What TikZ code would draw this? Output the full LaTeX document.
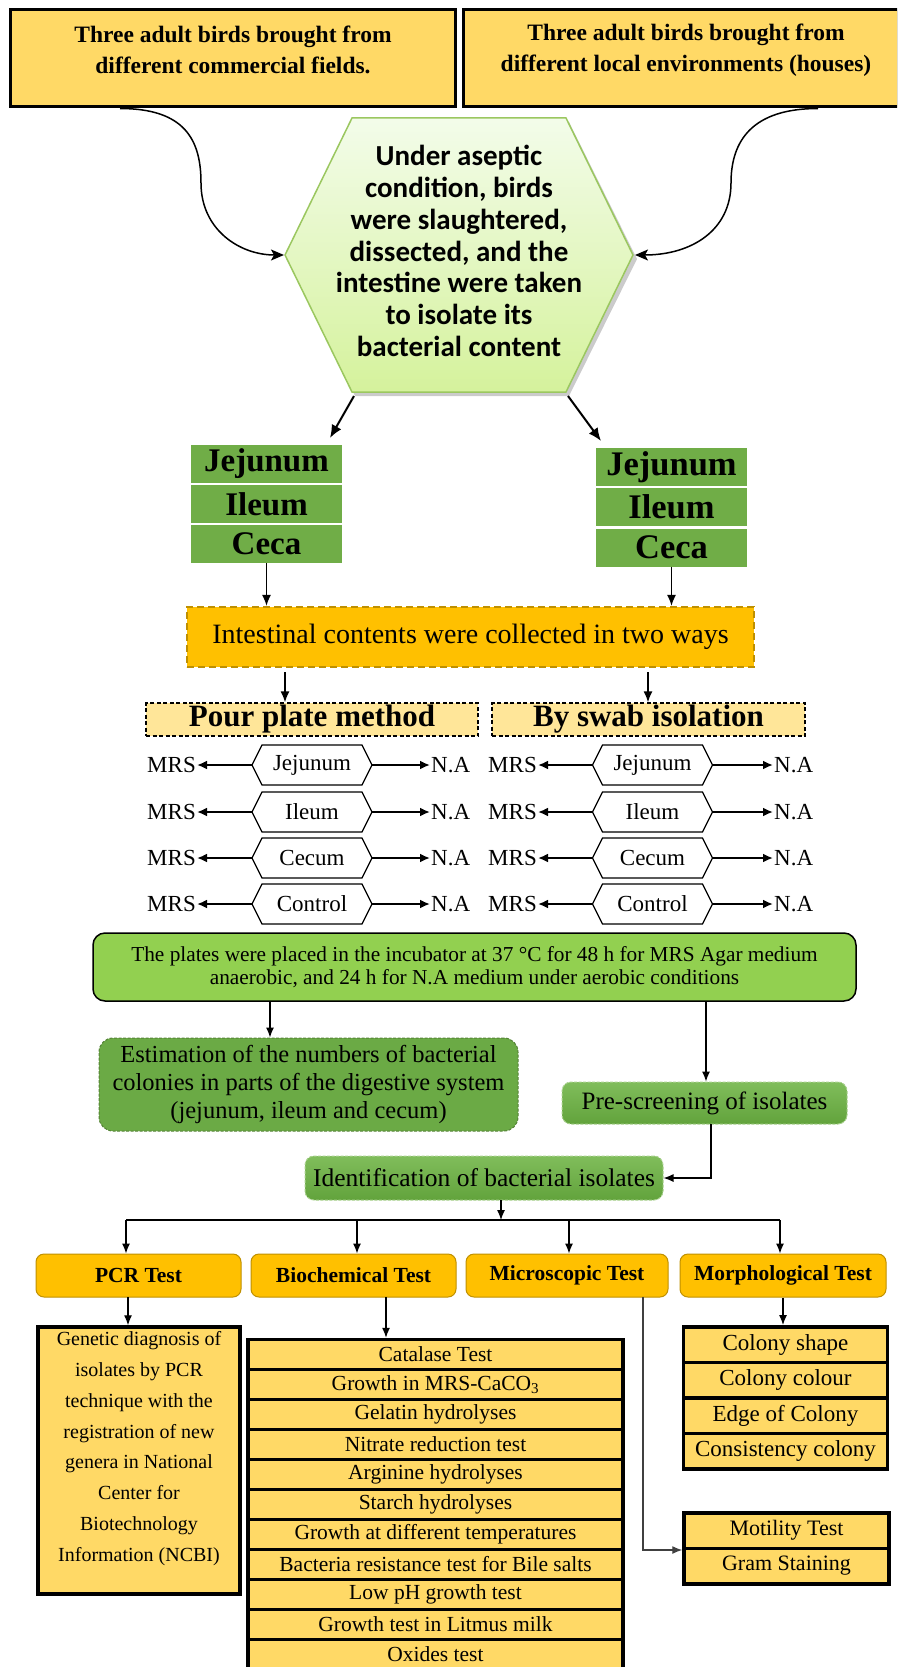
\documentclass[tikz,border=0pt]{standalone}
\usepackage{fontspec}
\setmainfont{Liberation Serif}
\newfontfamily\calibfont{Carlito}
\usetikzlibrary{arrows.meta,calc}
\definecolor{gold}{HTML}{FFD966}
\definecolor{orng}{HTML}{FFC000}
\definecolor{dgold}{HTML}{BF9000}
\definecolor{lyel}{HTML}{FFE699}
\definecolor{grn}{HTML}{70AD47}
\definecolor{estg}{HTML}{6BAA45}
\definecolor{lime}{HTML}{92D050}
\definecolor{dgrn}{HTML}{548235}
\definecolor{lgrn}{HTML}{A9D18E}
\definecolor{gtop}{HTML}{80BD5B}
\definecolor{gbot}{HTML}{62A33C}
\definecolor{hexbord}{HTML}{9BC760}
\definecolor{hextop}{HTML}{F3FCEA}
\definecolor{hexbot}{HTML}{D5F29C}
\newcommand\myfs[2]{\fontsize{#1}{#2}\selectfont}
\newcommand\smallhex[4]{%
  \draw[line width=1.2pt,fill=white] ({#2-60},#3) -- ({#2-50},{#3-20}) -- ({#2+50},{#3-20}) -- ({#2+60},#3) -- ({#2+50},{#3+20}) -- ({#2-50},{#3+20}) -- cycle;
  \node[medium] (#1) at (#2,#3) {#4};
  \coordinate (#1-w) at ({#2-60},#3);
  \coordinate (#1-e) at ({#2+60},#3);
}
\begin{document}
\begin{tikzpicture}[x=1pt,y=-1pt,
  topbox/.style={draw=black,line width=3pt,fill=gold,inner sep=0pt,minimum height=97pt},
  toptext/.style={font=\bfseries\myfs{23.5}{31.5},align=center,inner sep=0pt},
  organ/.style={fill=grn,inner sep=0pt,minimum width=151pt,minimum height=38pt,font=\bfseries\myfs{33}{33}},
  organR/.style={organ,font=\bfseries\myfs{34.5}{34.5}},
  arr/.style={line width=1.5pt,-{Latex[length=11pt,width=9pt]}},
  thinarr/.style={line width=1.2pt,-{Latex[length=10pt,width=8pt]}},
  hexarr/.style={line width=2pt,-{Latex[length=13pt,width=11pt]}},
  curv/.style={line width=1.5pt,-{Stealth[length=13pt,width=11pt,inset=3pt]}},
  medarr/.style={line width=2.2pt,-{Latex[length=10pt,width=9pt]}},
  collectbox/.style={fill=orng,draw=dgold,line width=2.2pt,dash pattern=on 7pt off 4pt,inner sep=0pt,font=\myfs{28}{28}},
  methodbox/.style={fill=lyel,draw=black,line width=1.3pt,dash pattern=on 4pt off 2.5pt,inner sep=0pt,minimum height=33pt,font=\bfseries\myfs{31}{31}},
  medium/.style={font=\myfs{23}{23},inner sep=1pt},
  incub/.style={rounded corners=12pt,fill=lime,draw=black,line width=1.5pt,align=center,font=\myfs{21.3}{23.5},inner sep=0pt},
  estim/.style={rounded corners=14pt,fill=estg,draw=dgrn,line width=1pt,dash pattern=on 3pt off 1.5pt,align=center,font=\myfs{24.5}{28},inner sep=0pt},
  gbox/.style={rounded corners=9pt,top color=gtop,bottom color=gbot,draw=lgrn,line width=1pt,dash pattern=on 3pt off 1.5pt,font=\myfs{25}{25},inner sep=0pt},
  gboxw/.style={gbox,font=\myfs{25.5}{25.5}},
  testhead/.style={rounded corners=8pt,fill=orng,draw=dgold,line width=1pt,minimum height=43pt,font=\bfseries\myfs{21.5}{21.5},inner sep=0pt},
  cell/.style={fill=gold,draw=black,line width=3.5pt,inner sep=0pt,font=\myfs{21.5}{21.5}},
  mcell/.style={cell,font=\myfs{23}{23}},
  micell/.style={cell,font=\myfs{22}{22}}
]
\useasboundingbox (0,0) rectangle (897,1667);
\clip (0,0) rectangle (897,1667);

% ---- top boxes
\node[topbox,minimum width=445pt] (b1) at (232.5,58.5) {};
\node[topbox,minimum width=435pt] (b2) at (680.5,58.5) {};
\node[toptext] (b1t) at (233,50) {Three adult birds brought from\\different commercial fields.};
\node[toptext] (b2t) at (686,50) {Three adult birds brought from\\different local environments (houses)};

% ---- central hexagon
\fill[black!45,opacity=0.45] (288,259) -- (355,122) -- (569,122) -- (637,259) -- (569,396) -- (355,396) -- cycle;
\shadedraw[top color=hextop,bottom color=hexbot,draw=hexbord,line width=1.5pt]
  (285,255) -- (352,118) -- (566,118) -- (633,255) -- (566,392) -- (352,392) -- cycle;
\node[font=\calibfont\bfseries\myfs{29}{31.7},align=center,inner sep=0pt] (hex) at (459,251)
  {Under aseptic\\condition, birds\\were slaughtered,\\dissected, and the\\intestine were taken\\to isolate its\\bacterial content};
\coordinate (hexL) at (284,255);
\coordinate (hexR) at (635,255);
\coordinate (b1out) at (120,108.5);
\coordinate (b2out) at (818,108.5);
\draw[curv] (b1out) .. controls (185,108.5) and (201,140) .. (201,183) .. controls (201,230) and (240,255) .. (hexL);
\draw[curv] (b2out) .. controls (753,108.5) and (731,140) .. (731,183) .. controls (731,230) and (692,255) .. (hexR);

% ---- organ stacks
\node[organ] (lj) at (266.5,464) {Jejunum};
\node[organ] (li) at (266.5,504) {Ileum};
\node[organ] (lc) at (266.5,544) {Ceca};
\node[organR] (rj) at (671.5,467) {Jejunum};
\node[organR] (ri) at (671.5,507) {Ileum};
\node[organR] (rc) at (671.5,547.5) {Ceca};
\coordinate (hexBL) at (354,396);
\coordinate (lin) at (330,438);
\coordinate (hexBR) at (568,396);
\coordinate (rin) at (601,441);
\draw[hexarr] (hexBL) -- (lin);
\draw[hexarr] (hexBR) -- (rin);

% ---- collection
\node[collectbox,minimum width=567pt,minimum height=60pt] (coll) at (470.5,637) {Intestinal contents were collected in two ways};
\draw[arr] (lc.south) -- (lc.south |- coll.north);
\draw[arr] (rc.south) -- (rc.south |- coll.north);

\node[methodbox,minimum width=332pt] (lmeth) at (312,719.5) {Pour plate method};
\node[methodbox,minimum width=313pt] (rmeth) at (648.5,719.5) {By swab isolation};
\coordinate (c2l) at (285,672);
\coordinate (c2r) at (648,672);
\draw[arr] (c2l) -- (c2l |- lmeth.north);
\draw[arr] (c2r) -- (c2r |- rmeth.north);

% ---- media rows
\foreach \i/\y/\t in {1/765/Jejunum,2/812/Ileum,3/858/Cecum,4/904/Control}{
  \smallhex{lh\i}{312}{\y}{\t}
  \smallhex{rh\i}{652.5}{\y}{\t}
  \node[medium,anchor=east] (lm\i) at (197,\y) {MRS};
  \node[medium,anchor=west] (ln\i) at (430,\y) {N.A};
  \node[medium,anchor=east] (rm\i) at (538,\y) {MRS};
  \node[medium,anchor=west] (rn\i) at (773,\y) {N.A};
  \draw[medarr] (lh\i-w) -- (lm\i.east);
  \draw[medarr] (lh\i-e) -- (ln\i.west);
  \draw[medarr] (rh\i-w) -- (rm\i.east);
  \draw[medarr] (rh\i-e) -- (rn\i.west);
}

% ---- incubation
\node[incub,minimum width=763pt,minimum height=68pt] (inc) at (474.5,967)
  {The plates were placed in the incubator at 37 °C for 48 h for MRS Agar medium\\anaerobic, and 24 h for N.A medium under aerobic conditions};
\node[estim,minimum width=419pt,minimum height=93pt] (est) at (308.5,1084.5)
  {Estimation of the numbers of bacterial\\colonies in parts of the digestive system\\(jejunum, ileum and cecum)};
\node[gbox,minimum width=285pt,minimum height=42pt] (pre) at (704.5,1103) {Pre-screening of isolates};
\node[gboxw,minimum width=358pt,minimum height=44pt] (idb) at (484,1178) {Identification of bacterial isolates};
\coordinate (incL) at (270,1001);
\coordinate (incR) at (706,1001);
\draw[thinarr] (incL) -- (incL |- est.north);
\draw[thinarr] (incR) -- (incR |- pre.north);
\coordinate (predown) at (711,1124);
\draw[thinarr] (predown) |- (idb.east);

% ---- tree
\coordinate (idout) at (501,1200);
\coordinate (busc) at (501,1220);
\coordinate (bus1) at (126,1220);
\coordinate (bus2) at (357,1220);
\coordinate (bus3) at (569,1220);
\coordinate (bus4) at (780,1220);
\draw[thinarr] (idout) -- (busc);
\draw[line width=1.3pt] (bus1) -- (bus4);

\node[testhead,minimum width=205pt] (pcr) at (138.5,1275.5) {PCR Test};
\node[testhead,minimum width=205pt] (bio) at (353.5,1275.5) {Biochemical Test};
\node[testhead,minimum width=202pt] (mic) at (567,1275.5) {Microscopic Test};
\node[testhead,minimum width=206pt] (mor) at (783,1275.5) {Morphological Test};
\draw[thinarr] (bus1) -- (bus1 |- pcr.north);
\draw[thinarr] (bus2) -- (bus2 |- bio.north);
\draw[thinarr] (bus3) -- (bus3 |- mic.north);
\draw[thinarr] (bus4) -- (bus4 |- mor.north);

% ---- PCR description
\node[cell,minimum width=202pt,minimum height=267pt] (pcrd) at (139,1460.5) {};
\node[font=\myfs{20}{30.8},align=center,inner sep=0pt] (pcrt) at (139,1448.5)
  {Genetic diagnosis of\\isolates by PCR\\technique with the\\registration of new\\genera in National\\Center for\\Biotechnology\\Information (NCBI)};
\coordinate (pcrdown) at (128,1297);
\draw[thinarr] (pcrdown) -- (pcrdown |- pcrd.north);

% ---- biochemical table
\foreach \i/\t in {0/Catalase Test,1/Growth in MRS-CaCO\textsubscript{3},2/Gelatin hydrolyses,3/Nitrate reduction test,4/Arginine hydrolyses,5/Starch hydrolyses,6/Growth at different temperatures,7/Bacteria resistance test for Bile salts,8/Low pH growth test,9/Growth test in Litmus milk,10/Oxides test}{
  \node[cell,minimum width=375pt,minimum height=30pt] (bc\i) at (435.5,{1354.5+30*\i}) {\t};
}
\coordinate (biodown) at (386,1297);
\draw[thinarr] (biodown) -- (biodown |- bc0.north);

% ---- morphological table
\foreach \i/\t in {0/Colony shape,1/Colony colour,2/Edge of Colony,3/Consistency colony}{
  \node[mcell,minimum width=204pt,minimum height=35.5pt] (mc\i) at (785.5,{1344.5+35.5*\i}) {\t};
}
\draw[thinarr] (mor.south) -- (mor.south |- mc0.north);

% ---- microscopic table
\node[micell,minimum width=205pt,minimum height=35.5pt] (mt0) at (786.5,1530.5) {Motility Test};
\node[micell,minimum width=205pt,minimum height=35.5pt] (mt1) at (786.5,1566) {Gram Staining};
\coordinate (micdown) at (643,1297);
\draw[thinarr,black!75] (micdown) |- (mt0.south west);
\end{tikzpicture}
\end{document}
